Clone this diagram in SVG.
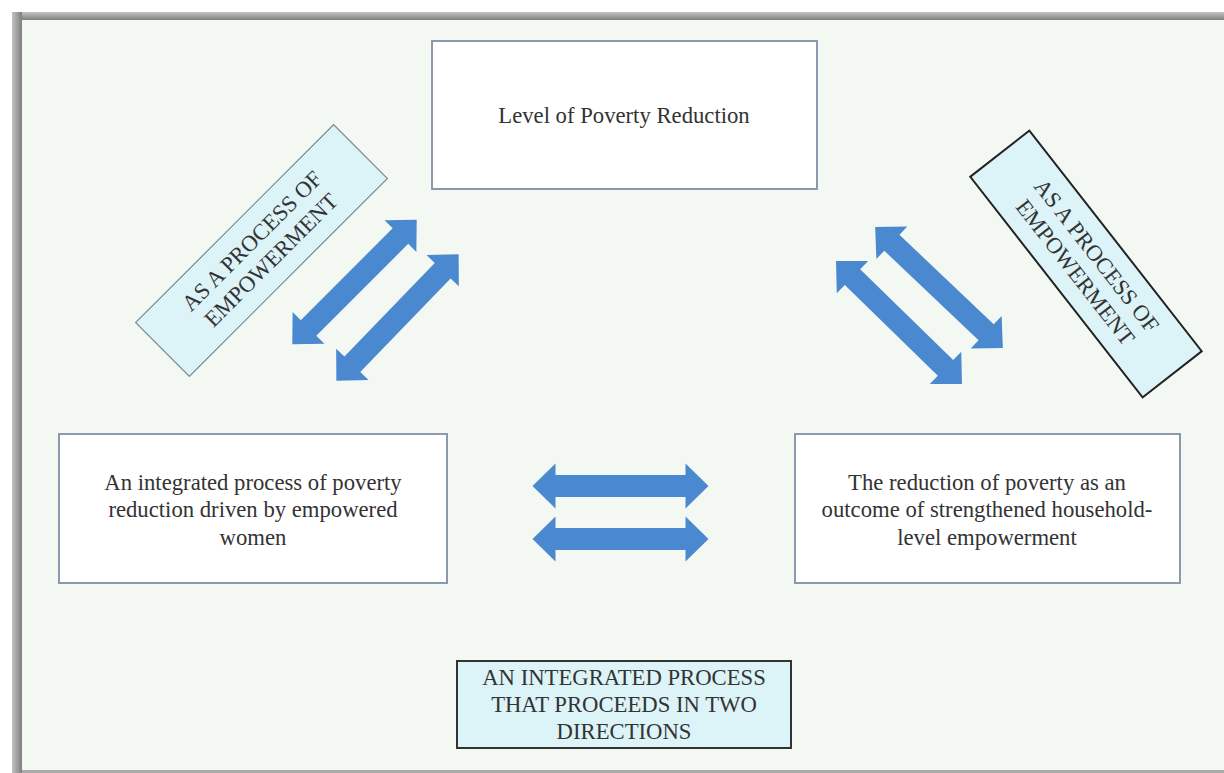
<svg xmlns="http://www.w3.org/2000/svg" width="1224" height="773" viewBox="0 0 1224 773">
  <style>
    .t { fill: #333333; text-anchor: middle; font-size: 22.7px; }
    .wbox { fill: #ffffff; stroke: #8c98ad; stroke-width: 2; }
    .cbox { fill: #dcf3f8; }
    .arrow { fill: #4a88cf; }
  </style>
  <defs>
    <linearGradient id="shTop" x1="0" y1="0" x2="0" y2="1">
      <stop offset="0" stop-color="#c4c4c4"/>
      <stop offset="1" stop-color="#7f7f7f"/>
    </linearGradient>
    <linearGradient id="shLeft" x1="0" y1="0" x2="1" y2="0">
      <stop offset="0" stop-color="#c4c4c4"/>
      <stop offset="1" stop-color="#7f7f7f"/>
    </linearGradient>
    <path id="dbl" d="M -88 0 L -65 -22.5 L -65 -11 L 65 -11 L 65 -22.5 L 88 0 L 65 22.5 L 65 11 L -65 11 L -65 22.5 Z"/>
  </defs>

  <!-- frame -->
  <rect x="0" y="0" width="1224" height="773" fill="#ffffff"/>
  <rect x="12" y="12" width="1212" height="761" fill="#8a8a8a"/>
  <rect x="12" y="12" width="1212" height="8" fill="url(#shTop)"/>
  <rect x="12" y="12" width="10" height="761" fill="url(#shLeft)"/>
  <rect x="22" y="20" width="1202" height="750" fill="#f4f8f3"/>
  <rect x="22" y="770" width="1202" height="3" fill="#a9aca8"/>

  <g id="connectors">
    <use href="#dbl" class="arrow" transform="translate(354.5 282) rotate(-45)"/>
    <use href="#dbl" class="arrow" transform="translate(397.5 317.5) rotate(-46)"/>
    <use href="#dbl" class="arrow" transform="translate(939 287.5) rotate(43.5)"/>
    <use href="#dbl" class="arrow" transform="translate(899 322.5) rotate(44.3)"/>
    <use href="#dbl" class="arrow" transform="translate(620.5 486)"/>
    <use href="#dbl" class="arrow" transform="translate(620.5 539)"/>
  </g>

  <g font-family="'Liberation Serif', 'Times New Roman', serif">
    <g id="top-node">
      <rect class="wbox" x="432" y="41" width="385" height="148"/>
      <text class="t" x="624" y="123">Level  of Poverty Reduction</text>
    </g>

    <g id="left-node">
      <rect class="wbox" x="59" y="434" width="388" height="149"/>
      <text class="t" x="253" y="490">An integrated process of poverty</text>
      <text class="t" x="253" y="517">reduction driven by empowered</text>
      <text class="t" x="253" y="545">women</text>
    </g>

    <g id="right-node">
      <rect class="wbox" x="795" y="434" width="385" height="149"/>
      <text class="t" x="987" y="490">The reduction of poverty as an</text>
      <text class="t" x="987" y="517">outcome of strengthened household-</text>
      <text class="t" x="987" y="545">level  empowerment</text>
    </g>

    <g id="left-label" transform="translate(261.5 250.5) rotate(-45)">
      <rect class="cbox" x="-140" y="-38" width="280" height="76" stroke="#7a8a90" stroke-width="1.2"/>
      <text class="t" x="0" y="-6">AS A PROCESS OF</text>
      <text class="t" x="0" y="21">EMPOWERMENT</text>
    </g>

    <g id="right-label" transform="translate(1086 264) rotate(52)">
      <rect class="cbox" x="-140" y="-37.5" width="280" height="75" stroke="#222222" stroke-width="2"/>
      <text class="t" x="0" y="-6">AS A PROCESS OF</text>
      <text class="t" x="0" y="21">EMPOWERMENT</text>
    </g>

    <g id="bottom-label">
      <rect class="cbox" x="457" y="661" width="334" height="87" stroke="#333333" stroke-width="2"/>
      <text class="t" x="624" y="685">AN INTEGRATED  PROCESS</text>
      <text class="t" x="624" y="712">THAT PROCEEDS IN TWO</text>
      <text class="t" x="624" y="739">DIRECTIONS</text>
    </g>
  </g>
</svg>
